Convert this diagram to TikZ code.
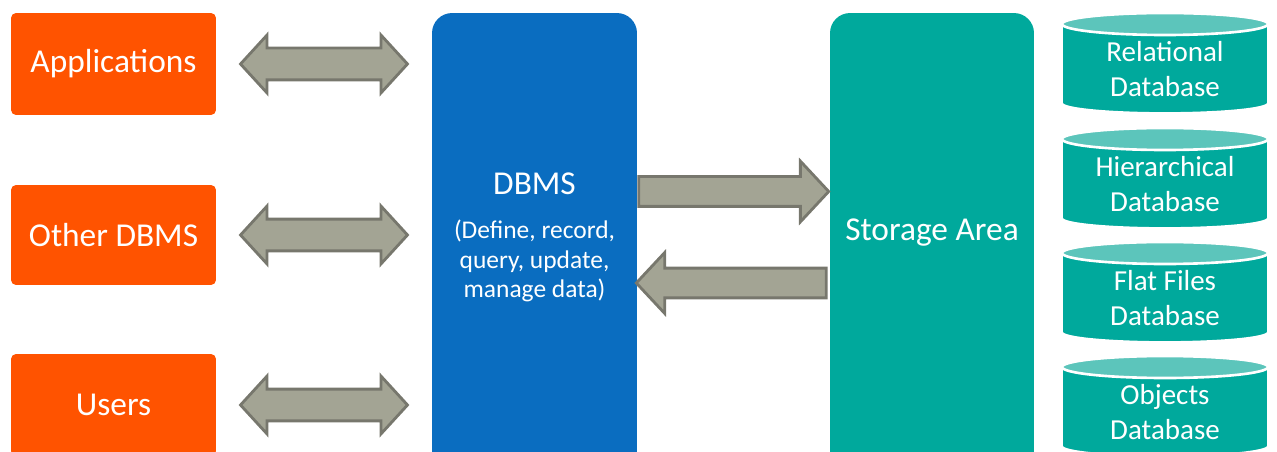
\documentclass[tikz,border=0pt]{standalone}
\usepackage{fontspec}
\setmainfont{Carlito}
\usetikzlibrary{shapes.arrows,calc}
\definecolor{orng}{HTML}{FF5300}
\definecolor{dbblue}{HTML}{0A6DC0}
\definecolor{tealc}{HTML}{00A99C}
\definecolor{ltteal}{HTML}{5CC5BB}
\definecolor{arrfill}{HTML}{A3A494}
\definecolor{arrdraw}{HTML}{77776D}
\begin{document}
\begin{tikzpicture}[x=0.02cm,y=-0.02cm,
  obox/.style={fill=orng, rounded corners=0.1cm, minimum width=4.1cm, minimum height=2.04cm,
    inner sep=0, text=white, font=\fontsize{19}{23}\selectfont},
  bigbox/.style={rounded corners=0.4cm, minimum width=4.1cm, minimum height=9.32cm, inner sep=0},
  wtxt/.style={text=white, align=center, inner sep=0},
  dblarr/.style={double arrow, fill=arrfill, draw=arrdraw, line width=1.6pt, inner xsep=0, inner ysep=0.29cm,
    minimum height=3.34cm, double arrow head extend=0.26cm, double arrow tip angle=95},
  sarr/.style={single arrow, fill=arrfill, draw=arrdraw, line width=1.6pt, inner xsep=0, inner ysep=0.27cm,
    minimum height=3.8cm, single arrow head extend=0.31cm, single arrow tip angle=94},
  cyltxt/.style={text=white, align=center, inner sep=0, font=\fontsize{16.5}{19.5}\selectfont}]
\useasboundingbox (0,0) rectangle (1277,452);
\clip (0,0) rectangle (1277,452);
% left boxes
\node[obox] (app) at (113.5,64) {Applications};
\node[obox, minimum height=2cm] (oth) at (113.5,235) {Other DBMS};
\node[obox] (usr) at (113.5,405) {Users};
% big boxes
\node[bigbox, fill=dbblue] (dbms) at (534.5,246) {};
\node[bigbox, fill=tealc, minimum width=4.08cm] (stor) at (932,246) {};
\node[wtxt, font=\fontsize{19}{23}\selectfont] (dbmst) at (534.5,184) {DBMS};
\node[wtxt, font=\fontsize{14.5}{16.8}\selectfont] (dbmss) at (534.5,261) {(Define, record,\\query, update,\\manage data)};
\node[wtxt, font=\fontsize{19}{23}\selectfont] (stort) at (932,233) {Storage Area};
% double arrows
\node[dblarr] (a1) at ($(app.east)!0.5!(app.east -| dbms.west)$) {};
\node[dblarr] (a2) at ($(oth.east)!0.5!(oth.east -| dbms.west)$) {};
\node[dblarr] (a3) at ($(usr.east)!0.5!(usr.east -| dbms.west)$) {};
% single arrows
\node[sarr, anchor=tail] (fw) at (dbms.east |- 0,191.5) {};
\node[sarr, shape border rotate=180, anchor=tail] (bw) at ([xshift=-0.04cm]stor.west |- 0,283) {};
% cylinders
\foreach \t/\txt/\nm in {13/{Relational\\Database}/rel, 128/{Hierarchical\\Database}/hier,
    242/{Flat Files\\Database}/flat, 356/{Objects\\Database}/obj} {
  \filldraw[fill=tealc, draw=white, line width=1pt] (1062,\t+11) -- (1062,\t+90)
    arc[start angle=180, end angle=360, x radius=2.06cm, y radius=0.2cm] -- (1268,\t+11) -- cycle;
  \filldraw[fill=ltteal, draw=white, line width=1.5pt] (1165,\t+11) ellipse [x radius=2.06cm, y radius=0.22cm];
  \node[cyltxt] (\nm) at (1165,\t+56) {\txt};
}
\end{tikzpicture}
\end{document}
